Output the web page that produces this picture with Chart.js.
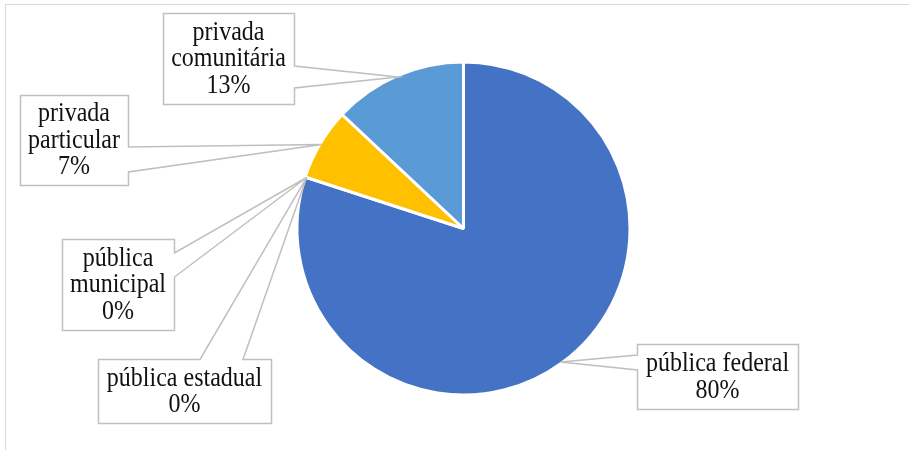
<!DOCTYPE html>
<html><head><meta charset="utf-8">
<script src="https://cdn.jsdelivr.net/npm/chart.js@4/dist/chart.umd.min.js"></script>
<style>html,body{margin:0;padding:0;background:#fff}canvas{display:block}</style>
</head><body>
<canvas id="c" width="909" height="450"></canvas>
<script>
// Share of institutions by administrative category (percent)
const categories = ['pública federal', 'pública estadual', 'pública municipal', 'privada particular', 'privada comunitária'];
const shares = [80, 0, 0, 7, 13];
const sliceColors = ['#4472C4', '#A5A5A5', '#ED7D31', '#FFC000', '#5B9BD5'];

// Callout boxes, one per category (same order): box rect, the side the
// pointer leaves from, and the span of that side the pointer base covers.
const callouts = [
  { x: 637, y: 344, w: 161, h: 65, side: 'left',  a: 355, b: 370, wrap: false },
  { x: 98,  y: 359, w: 173, h: 64, side: 'top',   a: 200, b: 243, wrap: false },
  { x: 62,  y: 239, w: 112, h: 91, side: 'right', a: 253, b: 277, wrap: true },
  { x: 20,  y: 95,  w: 108, h: 90, side: 'right', a: 147, b: 172, wrap: true },
  { x: 163, y: 13,  w: 131, h: 91, side: 'right', a: 66,  b: 88,  wrap: true }
];

const calloutPlugin = {
  id: 'wedgeCallouts',
  afterDraw(chart, args, opts) {
    const ctx = chart.ctx;
    const meta = chart.getDatasetMeta(0);
    const data = chart.data.datasets[0].data;
    const total = data.reduce((s, v) => s + v, 0);

    ctx.save();
    // outer frame of the chart
    ctx.strokeStyle = '#d9d9d9';
    ctx.lineWidth = 1;
    ctx.strokeRect(5.5, 4.5, 1000, 1000);

    meta.data.forEach((arc, i) => {
      const c = opts.boxes[i];
      if (!c) return;
      const p = arc.getProps(['x', 'y', 'startAngle', 'endAngle', 'outerRadius'], true);
      const mid = (p.startAngle + p.endAngle) / 2;
      const ax = p.x + Math.cos(mid) * (p.outerRadius - 1.5);
      const ay = p.y + Math.sin(mid) * (p.outerRadius - 1.5);

      const L = c.x + 0.5, T = c.y + 0.5, R = c.x + c.w + 0.5, B = c.y + c.h + 0.5;
      ctx.beginPath();
      ctx.moveTo(L, T);
      if (c.side === 'top') { ctx.lineTo(c.a, T); ctx.lineTo(ax, ay); ctx.lineTo(c.b, T); }
      ctx.lineTo(R, T);
      if (c.side === 'right') { ctx.lineTo(R, c.a); ctx.lineTo(ax, ay); ctx.lineTo(R, c.b); }
      ctx.lineTo(R, B);
      if (c.side === 'bottom') { ctx.lineTo(c.b, B); ctx.lineTo(ax, ay); ctx.lineTo(c.a, B); }
      ctx.lineTo(L, B);
      if (c.side === 'left') { ctx.lineTo(L, c.b); ctx.lineTo(ax, ay); ctx.lineTo(L, c.a); }
      ctx.closePath();
      ctx.fillStyle = '#ffffff';
      ctx.fill();
      ctx.strokeStyle = '#bfbfbf';
      ctx.lineWidth = 1.5;
      ctx.stroke();

      const name = chart.data.labels[i];
      const lines = c.wrap ? name.split(' ') : [name];
      lines.push(Math.round(data[i] / total * 100) + '%');
      const lh = 26.5;
      const cx = c.x + c.w / 2;
      const cy = c.y + c.h / 2;
      ctx.fillStyle = '#111111';
      ctx.font = '24px "Liberation Serif", "Times New Roman", serif';
      ctx.textAlign = 'center';
      ctx.textBaseline = 'middle';
      lines.forEach((t, k) => {
        const ty = cy + (k - (lines.length - 1) / 2) * lh + 1;
        ctx.save();
        ctx.translate(cx, ty);
        ctx.scale(1, 1.1);
        ctx.fillText(t, 0, 0);
        ctx.restore();
      });
    });
    ctx.restore();
  }
};

new Chart(document.getElementById('c'), {
  type: 'pie',
  data: {
    labels: categories,
    datasets: [{
      data: shares,
      backgroundColor: sliceColors,
      borderColor: '#ffffff',
      borderWidth: 3
    }]
  },
  options: {
    responsive: false,
    animation: false,
    radius: 166.5,
    layout: { padding: { left: 31, right: 13, top: 21, bottom: 14 } },
    plugins: {
      legend: { display: false },
      tooltip: { enabled: false },
      wedgeCallouts: { boxes: callouts }
    }
  },
  plugins: [calloutPlugin]
});
</script>
</body></html>
